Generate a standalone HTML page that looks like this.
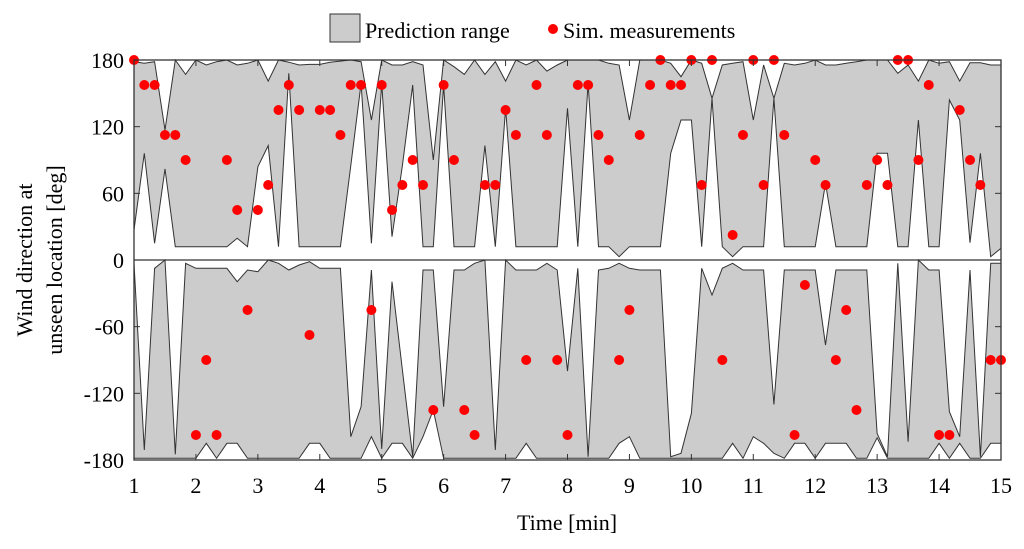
<!DOCTYPE html>
<html><head><meta charset="utf-8"><style>
html,body{margin:0;padding:0;background:#fff;}
svg{display:block;font-family:"Liberation Serif",serif;}
</style></head><body>
<svg id="chart" width="1024" height="549" viewBox="0 0 1024 549">
<g id="plot"></g>
<g id="axes"></g>
<g>
<rect x="330" y="14" width="30" height="28" fill="#cccccc" stroke="#333" stroke-width="1"/>
<text x="365" y="38" font-size="22">Prediction range</text>
<circle cx="553" cy="29" r="5" fill="#ff0000"/>
<text x="563" y="38" font-size="22">Sim. measurements</text>
</g>
<text x="567" y="530" font-size="22" text-anchor="middle">Time [min]</text>
<g transform="translate(0,260) rotate(-90)">
<text x="0" y="32" font-size="22" text-anchor="middle">Wind direction at</text>
<text x="0" y="62" font-size="22" text-anchor="middle">unseen location [deg]</text>
</g>
</svg>
<script>
const xTicks=[1,2,3,4,5,6,7,8,9,10,11,12,13,14,15];
const yTicks=[180,120,60,0,-60,-120,-180];
const measurements=[180,157.5,157.5,112.5,112.5,90,-157.5,-90,-157.5,90,45,-45,45,67.5,135,157.5,135,-67.5,135,135,112.5,157.5,157.5,-45,157.5,45,67.5,90,67.5,-135,157.5,90,-135,-157.5,67.5,67.5,135,112.5,-90,157.5,112.5,-90,-157.5,157.5,157.5,112.5,90,-90,-45,112.5,157.5,180,157.5,157.5,180,67.5,180,-90,22.5,112.5,180,67.5,180,112.5,-157.5,-22.5,90,67.5,-90,-45,-135,67.5,90,67.5,180,180,90,157.5,-157.5,-157.5,135,90,67.5,-90,-90];
const upperTop=[178.5,177,178.5,117,180,167,180,175.5,178.5,180,175.5,177,180,161,180,178,175.5,176,176,178,179,180,178.5,126,180,175.5,175.5,178.5,175.5,90,180,174,167,180,167,178.5,161,180,175.5,180,170,175.5,180,180,180,180,177,175.5,126,180,180,180,177,165,180,177,145.5,175.5,177,178.5,126,175.5,145.5,177,175.5,177,180,175.5,175.5,177,178.5,180,180,180,168,175.5,161,180,177,178.5,161,177.5,177.5,175.5,175.5];
const upperBottom=[27,96,15,82,12,12,12,12,12,12,19.5,12,84,103,12,168,12,12,12,12,12,85,159,15,159,21,85,157.5,12,12,157.5,12,12,12,103,12,136.5,12,12,12,12,12,136.5,12,159,12,12,3,12,12,12,12,96,126,126,12,145.5,12,3,12,12,12,145.5,12,12,12,12,69,12,12,12,12,96,96,12,12,126,12,12,144,126,15.6,96,3,10.5];
const lowerTop=[-3,-171,-7.5,0,-175,-3,-7.5,-7.5,-7.5,-7.5,-19.5,-9,-10.5,0,-3,-9,-4.5,-1.5,-7.5,-7.5,-7.5,-159,-132,-9,-170,-19.5,-99,-177,-9,-9,-132,-9,-9,-3,0,-171,0,-9,-9,-9,-3,-9,-100,-7.5,-177,-9,-7.5,-3,-7.5,-9,-9,-9,-177,-174,-138,-7.5,-31.5,-7.5,-3,-9,-9,-9,-130,-9,-9,-9,-9,-76.5,-9,-9,-9,-9,-156,-177,-3,-163.5,0,-9,-9,-136.5,-159,-9,-177,-3,-3];
const lowerBottom=[-178.5,-178.5,-178.5,-178.5,-178.5,-178.5,-178.5,-165,-178.5,-165,-165,-178.5,-178.5,-178.5,-178.5,-178.5,-178.5,-165,-165,-178.5,-178.5,-178.5,-178.5,-159,-178.5,-165,-165,-178.5,-159,-135,-178.5,-178.5,-178.5,-178.5,-178.5,-178.5,-178.5,-178.5,-165,-178.5,-178.5,-178.5,-178.5,-178.5,-178.5,-178.5,-178.5,-165,-159,-178.5,-178.5,-178.5,-178.5,-178.5,-178.5,-178.5,-178.5,-178.5,-165,-178.5,-159,-165,-174,-178.5,-165,-165,-178.5,-165,-165,-165,-178.5,-178.5,-160,-178.5,-178.5,-178.5,-178.5,-178.5,-165,-178.5,-165,-178.5,-178.5,-165,-165];

const NS='http://www.w3.org/2000/svg';
const X0=134,X1=1001,Y0=60,Y1=460;
function xs(t){return X0+(t-1)*(X1-X0)/14;}
function ys(v){return 260-v*(Y1-Y0)/360;}
function tAt(k){return 1+k/6;}
function mk(tag,attrs,parent){const e=document.createElementNS(NS,tag);for(const a in attrs)e.setAttribute(a,attrs[a]);parent.appendChild(e);return e;}
const plot=document.getElementById('plot'),axes=document.getElementById('axes');

function band(top,bot,name){
  let pts=[];
  for(let k=0;k<top.length;k++)pts.push(xs(tAt(k)).toFixed(1)+','+ys(top[k]).toFixed(1));
  for(let k=bot.length-1;k>=0;k--)pts.push(xs(tAt(k)).toFixed(1)+','+ys(bot[k]).toFixed(1));
  const p=mk('polygon',{points:pts.join(' '),fill:'#cccccc',stroke:'#333','stroke-width':'1','stroke-linejoin':'miter'},plot);
  
  
}
band(upperTop,upperBottom,'prediction-range-upper');
band(lowerTop,lowerBottom,'prediction-range-lower');

// frame and zero line
const fr=mk('rect',{x:X0,y:Y0,width:X1-X0,height:Y1-Y0,fill:'none',stroke:'#333','stroke-width':'1.3'},axes);


const zl=mk('line',{x1:X0,x2:X1,y1:ys(0),y2:ys(0),stroke:'#333','stroke-width':'1.3'},axes);



xTicks.forEach(t=>{
  const x=xs(t);
  mk('line',{x1:x,x2:x,y1:Y1,y2:Y1-6,stroke:'#333'},axes);
  mk('line',{x1:x,x2:x,y1:Y0,y2:Y0+6,stroke:'#333'},axes);
  const tx=mk('text',{x:x,y:493,'font-size':'22','text-anchor':'middle'},axes);
  tx.textContent=t;
  
  
});
yTicks.forEach(v=>{
  const y=ys(v);
  mk('line',{x1:X0,x2:X0+6,y1:y,y2:y,stroke:'#333'},axes);
  mk('line',{x1:X1,x2:X1-6,y1:y,y2:y,stroke:'#333'},axes);
  const tx=mk('text',{x:124,y:y+8,'font-size':'22','text-anchor':'end'},axes);
  tx.textContent=v;
  
  
});

measurements.forEach((v,k)=>{
  const c=mk('circle',{cx:xs(tAt(k)),cy:ys(v),r:5,fill:'#ff0000'},plot);
  
  
});
</script>
</body></html>
